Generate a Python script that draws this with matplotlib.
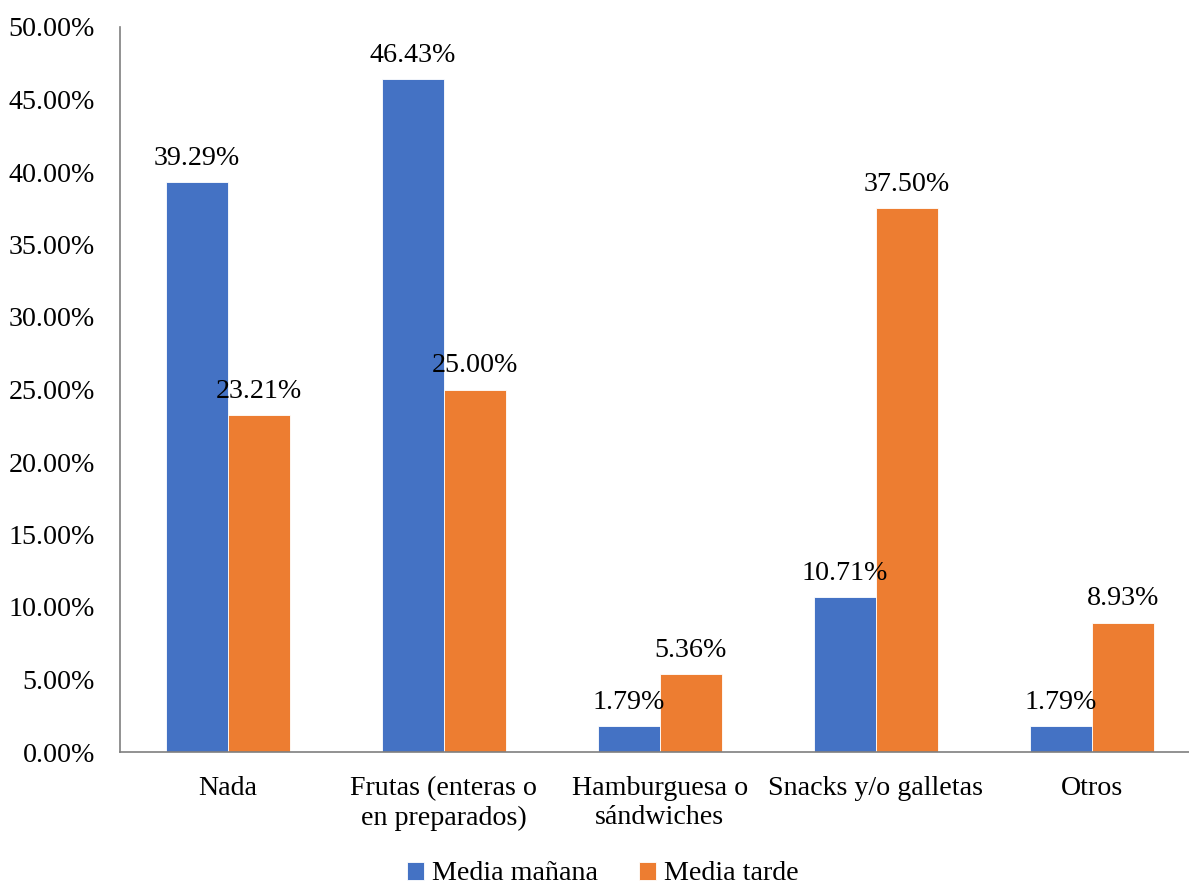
import matplotlib
matplotlib.use("Agg")
import matplotlib.pyplot as plt
import numpy as np
from matplotlib.ticker import FuncFormatter, MultipleLocator

categories = ["Nada", "Frutas (enteras o\nen preparados)", "Hamburguesa o\nsándwiches",
              "Snacks y/o galletas", "Otros"]
manana = [39.29, 46.43, 1.79, 10.71, 1.79]
tarde = [23.21, 25.00, 5.36, 37.50, 8.93]
series_names = ["Media mañana", "Media tarde"]

plt.rcParams["font.family"] = ["Liberation Serif", "DejaVu Serif"]
FS = 20.2

fig = plt.figure(figsize=(11.89, 8.86), dpi=100)
ax = fig.add_axes([120 / 1189, 1 - 752 / 886, 1069 / 1189, 725 / 886])

x = np.arange(len(categories))
w = 0.287
b1 = ax.bar(x - w / 2, manana, w, color="#4472C4", edgecolor="white", linewidth=0.6,
            label=series_names[0])
b2 = ax.bar(x + w / 2, tarde, w, color="#ED7D31", edgecolor="white", linewidth=0.6,
            label=series_names[1])

for bars, vals in ((b1, manana), (b2, tarde)):
    for r, v in zip(bars, vals):
        ax.annotate(f"{v:.2f}%", (r.get_x() + r.get_width() / 2, v),
                    xytext=(0, 8), textcoords="offset points",
                    ha="center", va="bottom", fontsize=FS)

ax.set_xlim(-0.5, 4.45)
ax.set_ylim(0, 50)
ax.yaxis.set_major_locator(MultipleLocator(5))
ax.yaxis.set_major_formatter(FuncFormatter(lambda v, p: f"{v:.2f}%"))
ax.set_xticks(x)
ax.set_xticklabels(categories, fontsize=FS, linespacing=1.25)
ax.tick_params(axis="both", length=0, labelsize=FS)
ax.tick_params(axis="x", pad=17)
ax.tick_params(axis="y", pad=18)

for s in ("top", "right"):
    ax.spines[s].set_visible(False)
for s in ("left", "bottom"):
    ax.spines[s].set_color("#7f7f7f")
    ax.spines[s].set_linewidth(1.2)

fig.legend(handles=[b1, b2], loc="center", bbox_to_anchor=(603 / 1189, 1 - 874 / 886),
           ncol=2, frameon=False, fontsize=FS, handlelength=0.6, handleheight=0.6,
           handletextpad=0.3, columnspacing=1.45)

fig.savefig("out.png", dpi=100)
